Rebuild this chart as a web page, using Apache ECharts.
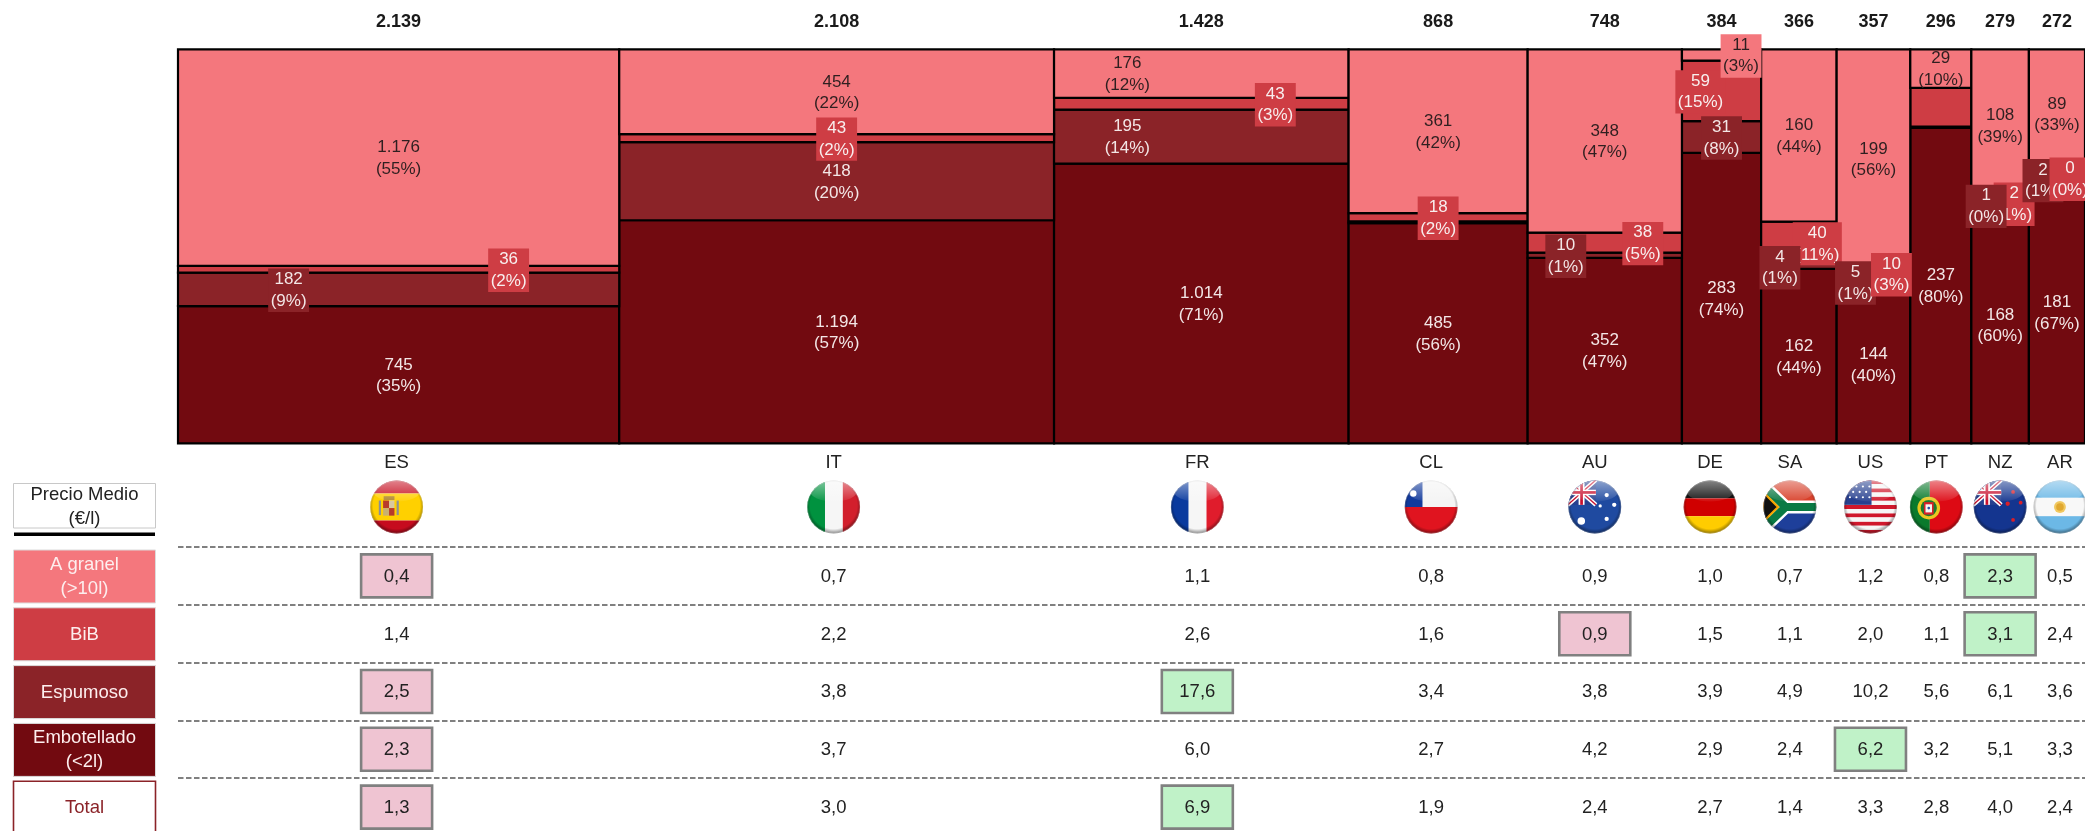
<!DOCTYPE html>
<html>
<head>
<meta charset="utf-8">
<style>html,body{margin:0;padding:0;background:#fff}#c{width:2085px;height:831px}</style>
<script src="https://cdn.jsdelivr.net/npm/echarts@6/dist/echarts.min.js"></script>
</head>
<body>
<div id="c"></div>
<script>
// ---- data ----
const countries   = ['ES','IT','FR','CL','AU','DE','SA','US','PT','NZ','AR'];
const totals      = [2139,2108,1428,868,748,384,366,357,296,279,272];
const embotellado = [745,1194,1014,485,352,283,162,144,237,168,181];
const espumoso    = [182,418,195,4,10,31,4,5,1,1,2];
const bib         = [36,43,43,18,38,59,40,10,29,2,0];
const granel      = [1176,454,176,361,348,11,160,199,29,108,89];

const priceRows   = ['A granel\n(>10l)','BiB','Espumoso','Embotellado\n(<2l)','Total'];
const priceGranel = [0.4,0.7,1.1,0.8,0.9,1.0,0.7,1.2,0.8,2.3,0.5];
const priceBib    = [1.4,2.2,2.6,1.6,0.9,1.5,1.1,2.0,1.1,3.1,2.4];
const priceEsp    = [2.5,3.8,17.6,3.4,3.8,3.9,4.9,10.2,5.6,6.1,3.6];
const priceEmb    = [2.3,3.7,6.0,2.7,4.2,2.9,2.4,6.2,3.2,5.1,3.3];
const priceTotal  = [1.3,3.0,6.9,1.9,2.4,2.7,1.4,3.3,2.8,4.0,2.4];
const lowCells    = ['0-0','2-0','3-0','4-0','1-4'];            // row-column, pink
const highCells   = ['0-9','1-9','2-2','4-2','3-7'];            // row-column, green

// ---- layout / style (not data) ----
const FONT = '"Liberation Sans", Arial, sans-serif';
const colors = {granel:'#F4777D', bib:'#CE3D44', esp:'#8B2328', emb:'#720A10'};
const tableShift = [-2,-3,-4,-7,-10,-11.5,-9,-3,-4.5,0,3];      // table columns sit slightly off the mosaic columns
const granelDx = [0,0,-74,0,0,19.5,0,0,0,0,0];
const bibDx    = [110,0,74,0,38,-21,18.4,18,0,14,13];
const espDx    = [-110,0,-74,0,-39,0,-19,-18,0,-14,-14];
const granelBox = [0,0,0,0,0,1,0,0,0,0,0];
const bibBox    = [1,1,1,1,1,1,1,1,0,1,1];
const espBox    = [1,0,0,0,1,1,1,1,0,1,1];
const bibHidden = [0,0,0,0,0,0,0,0,1,0,0];
const espHidden = [0,0,0,1,0,0,0,0,1,0,0];
const espOnTop  = [0,0,0,0,0,0,1,0,0,1,0];
const TEXT_DROP = 1;

const gloss = '<radialGradient id="s" cx=".5" cy=".47" r=".53"><stop offset=".82" stop-color="#000" stop-opacity="0"/><stop offset="1" stop-color="#000" stop-opacity=".5"/></radialGradient>'
  + '<linearGradient id="h" x1="0" y1="0" x2="0" y2="1"><stop offset="0" stop-color="#fff" stop-opacity=".5"/><stop offset="1" stop-color="#fff" stop-opacity=".05"/></linearGradient>'
  + '<clipPath id="c"><ellipse cx="50" cy="50" rx="49" ry="49"/></clipPath>';
const r = (x,y,w,h,f)=>`<rect x="${x}" y="${y}" width="${w}" height="${h}" fill="${f}"/>`;
const jack = r(0,0,52,46,'#27408f')
  + '<path d="M0 0L52 46M52 0L0 46" stroke="#fff" stroke-width="8"/><path d="M0 0L52 46M52 0L0 46" stroke="#c8102e" stroke-width="2.6"/>'
  + r(20,0,11,46,'#fff')+r(0,18,52,10,'#fff')+r(23,0,5,46,'#c8102e')+r(0,20.5,52,5,'#c8102e');
const dots = (list,f)=>list.map(d=>`<circle cx="${d[0]}" cy="${d[1]}" r="${d[2]}" fill="${f}"/>`).join('');
const flagArt = {
  ES: r(0,0,100,25,'#c60b1e')+r(0,25,100,50,'#ffd000')+r(0,75,100,25,'#c60b1e')
      +r(25,38,11,14,'#b83a2a')+r(36,38,10,14,'#d8c8a0')+r(25,52,11,14,'#c8b070')+r(36,52,10,14,'#b83a2a')
      +r(17,38,4,27,'#8a8f98')+r(50,38,4,27,'#8a8f98')+r(26,30,20,7,'#b0862a'),
  IT: r(0,0,34,100,'#00923f')+r(34,0,33,100,'#f6f6f6')+r(67,0,33,100,'#d21f2c'),
  FR: r(0,0,34,100,'#0a3a9e')+r(34,0,33,100,'#f6f6f6')+r(67,0,33,100,'#e01c2c'),
  CL: r(0,0,100,50,'#f4f4f4')+r(0,50,100,50,'#e0141f')+r(0,0,34,50,'#123a9c')+dots([[17,25,6]],'#fff'),
  AU: r(0,0,100,100,'#1f4aa0')+jack+dots([[25,76,7],[72,28,4],[86,46,4],[72,72,4],[60,48,3]],'#fff'),
  DE: r(0,0,100,34,'#111')+r(0,34,100,33,'#d00000')+r(0,67,100,33,'#ffcc00'),
  SA: r(0,0,100,50,'#d8402a')+r(0,50,100,50,'#1e3f9a')
      +'<path d="M-4 6L42 50L-4 94M42 50H100" fill="none" stroke="#fff" stroke-width="24"/>'
      +'<path d="M-4 6L42 50L-4 94M42 50H100" fill="none" stroke="#0a7a44" stroke-width="15"/>'
      +'<path d="M0 22L28 50L0 78Z" fill="#111" stroke="#f7a600" stroke-width="4"/>',
  US: [0,1,2,3,4,5,6].map(i=>r(0,i*15.4,100,7.7,'#d0182c')).join('')+[0,1,2,3,4,5,6].map(i=>r(0,i*15.4+7.7,100,7.7,'#f6f6f6')).join('')+r(0,0,52,46,'#27408f')+dots([[12,12,2],[24,12,2],[36,12,2],[48,12,2],[18,22,2],[30,22,2],[42,22,2],[12,32,2],[24,32,2],[36,32,2],[48,32,2]],'#fff'),
  PT: r(0,0,38,100,'#0a7a2c')+r(38,0,62,100,'#dd0a14')+dots([[36,52,21]],'#e9c820')+dots([[36,52,15]],'#1a7a30')+r(27,41,18,23,'#d81f2a')+r(30,45,12,15,'#f4f4f4')+dots([[36,52,2.5]],'#2a4fa8'),
  NZ: r(0,0,100,100,'#14358f')+jack+dots([[74,22,3.5],[88,42,3.5],[64,44,4],[74,74,3.5]],'#d81f2a'),
  AR: r(0,0,100,33,'#6cb8e6')+r(0,33,100,34,'#f8f8f8')+r(0,67,100,33,'#6cb8e6')+dots([[50,50,11]],'#f0c860')+dots([[50,50,7]],'#e0a830')
};
function flagUri(code){
  const svg = `<svg xmlns="http://www.w3.org/2000/svg" width="106" height="106" viewBox="0 0 100 100"><defs>${gloss}</defs><g clip-path="url(#c)">${flagArt[code]}`
    + `<rect width="100" height="100" fill="url(#s)"/><ellipse cx="50" cy="20" rx="44" ry="20" fill="url(#h)"/></g><ellipse cx="50" cy="50" rx="48.5" ry="48.5" fill="none" stroke="#fff" stroke-opacity=".35" stroke-width="1.2"/></svg>`;
  return 'data:image/svg+xml;charset=utf-8,' + encodeURIComponent(svg);
}

// ---- scales built from the data ----
const scaleMax = totals.reduce((a,b)=>a+b,0);
const starts = []; totals.reduce((acc,t,i)=>{starts[i]=acc;return acc+t;},0);
const mids = totals.map((t,i)=>starts[i]+t/2);
const seriesDefs = [
  {key:'emb',    vals:embotellado, fill:colors.emb,    dx:null,     box:null,      hidden:null,      ink:'#f3e6e6'},
  {key:'esp',    vals:espumoso,    fill:colors.esp,    dx:espDx,    box:espBox,    hidden:espHidden, ink:'#f3e6e6'},
  {key:'bib',    vals:bib,         fill:colors.bib,    dx:bibDx,    box:bibBox,    hidden:bibHidden, ink:'#f8eeee'},
  {key:'granel', vals:granel,      fill:colors.granel, dx:granelDx, box:granelBox, hidden:null,      ink:'#2f1f20'}
];
const colSum = totals.map((_,i)=>seriesDefs.reduce((s,d)=>s+d.vals[i],0));
const fmt = v => String(v).replace(/\B(?=(\d{3})+$)/g,'.');
const labels = [];
const segmentSeries = seriesDefs.map((d,sIdx)=>{
  const data = d.vals.map((v,i)=>{
    const below = seriesDefs.slice(0,sIdx).reduce((s,o)=>s+o.vals[i],0);
    const y0 = below/colSum[i], y1 = (below+v)/colSum[i];
    if(!(d.hidden && d.hidden[i])){
      labels.push({
        pos:[mids[i],(y0+y1)/2], dx:d.dx?d.dx[i]:0, text:fmt(v)+'\n('+Math.round(v/totals[i]*100)+'%)',
        ink:d.ink, bg:(d.box&&d.box[i])?d.fill:null,
        z: 10*(i+1) + (d.key==='granel'?5:d.key==='esp'?(espOnTop[i]?3:1):d.key==='bib'?2:0)
      });
    }
    return [starts[i],starts[i]+totals[i],y0,y1];
  });
  return {
    type:'custom', xAxisIndex:0, yAxisIndex:0, z:2, clip:false, silent:true, data,
    renderItem:(p,api)=>{
      const a=api.coord([api.value(0),api.value(2)]), b=api.coord([api.value(1),api.value(3)]);
      return {type:'rect',shape:{x:a[0],y:b[1],width:b[0]-a[0],height:a[1]-b[1]},
        style:{fill:d.fill,stroke:'#000',lineWidth:2.2}};
    }
  };
});
const labelSeries = {
  type:'custom', xAxisIndex:0, yAxisIndex:0, z:5, clip:false, silent:true,
  data:labels.map(l=>l.pos),
  renderItem:(p,api)=>{
    const l=labels[p.dataIndex], c=api.coord([api.value(0),api.value(1)]);
    return {type:'text',z2:l.z,x:c[0]+l.dx,y:c[1]+TEXT_DROP,style:{text:l.text,align:'center',verticalAlign:'middle',
      fontSize:17,fontFamily:FONT,lineHeight:21.7,fill:l.ink,backgroundColor:l.bg||'transparent',padding:[0,2.5]}};
  }
};
const headerSeries = {
  type:'custom', xAxisIndex:0, yAxisIndex:0, z:6, clip:false, silent:true,
  data:mids.map((m,i)=>[m,1]),
  renderItem:(p,api)=>{
    const c=api.coord([api.value(0),api.value(1)]);
    return {type:'text',x:c[0],y:c[1]-27,style:{text:fmt(totals[p.dataIndex]),align:'center',verticalAlign:'middle',
      fontSize:18,fontWeight:'bold',fontFamily:FONT,fill:'#1a1a1a'}};
  }
};
const codeSeries = {
  type:'custom', xAxisIndex:2, yAxisIndex:2, z:6, clip:false, silent:true,
  data:mids.map(m=>[m,0]),
  renderItem:(p,api)=>{
    const i=p.dataIndex, c=api.coord([api.value(0),0]), f=api.coord([api.value(0),1]);
    const x=c[0]+tableShift[i];
    return {type:'group',children:[
      {type:'text',x,y:c[1],style:{text:countries[i],align:'center',verticalAlign:'middle',fontSize:18.5,fontFamily:FONT,fill:'#222'}},
      {type:'image',style:{image:flagUri(countries[i]),x:x-27,y:f[1]-27,width:54,height:54}}
    ]};
  }
};
const priceTable = [priceGranel,priceBib,priceEsp,priceEmb,priceTotal];
const cellData = [];
priceTable.forEach((row,ri)=>row.forEach((v,ci)=>cellData.push([mids[ci],ri+0.5,v,ci,ri])));
const cellSeries = {
  type:'custom', xAxisIndex:1, yAxisIndex:1, z:6, clip:false, silent:true,
  data:cellData,
  renderItem:(p,api)=>{
    const ci=api.value(3), ri=api.value(4), v=api.value(2);
    const c=api.coord([api.value(0),api.value(1)]), x=c[0]+tableShift[ci], y=c[1];
    const id=ri+'-'+ci, kids=[];
    const tint=lowCells.includes(id)?'#EFC4D2':highCells.includes(id)?'#C0F2C8':null;
    if(tint) kids.push({type:'rect',shape:{x:x-35.5,y:y-21.5,width:71,height:43},style:{fill:tint,stroke:'#808080',lineWidth:2.6}});
    kids.push({type:'text',z2:5,x,y:y+0.8,style:{text:v.toFixed(1).replace('.',','),align:'center',verticalAlign:'middle',fontSize:18.5,fontFamily:FONT,fill:'#222'}});
    return {type:'group',children:kids};
  }
};
const rowStyles = [
  {fill:colors.granel,ink:'#fdeeee',stroke:'#dcdcdc'},{fill:colors.bib,ink:'#fdeeee',stroke:'#dcdcdc'},
  {fill:colors.esp,ink:'#fdeeee',stroke:'#dcdcdc'},{fill:colors.emb,ink:'#fdeeee',stroke:'#dcdcdc'},
  {fill:'#fff',ink:colors.esp,stroke:colors.esp}
];
const rowSeries = {
  type:'custom', xAxisIndex:1, yAxisIndex:1, z:6, clip:false, silent:true,
  data:priceRows.map((_,i)=>[0,i+0.5]),
  renderItem:(p,api)=>{
    const i=p.dataIndex, y=api.coord([0,api.value(1)])[1]+0.6, s=rowStyles[i];
    return {type:'group',children:[
      {type:'rect',shape:{x:13.5,y:y-26.5,width:142,height:53},style:{fill:s.fill,stroke:s.stroke,lineWidth:i===4?1.6:1}},
      {type:'text',z2:3,x:84.5,y:y+0.5,style:{text:priceRows[i],align:'center',verticalAlign:'middle',fontSize:18.5,lineHeight:24,fontFamily:FONT,fill:s.ink}}
    ]};
  }
};

const hiddenX = {type:'value',min:0,max:scaleMax,show:false,splitLine:{show:false}};
const chart = echarts.init(document.getElementById('c'),null,{renderer:'canvas'});
chart.setOption({
  animation:false,
  backgroundColor:'#fff',
  grid:[
    {left:178,top:49.3,width:1907,height:394},
    {left:178,top:547,width:1907,height:284},
    {left:178,top:441,width:1907,height:88}
  ],
  xAxis:[{...hiddenX,gridIndex:0},{...hiddenX,gridIndex:1},{...hiddenX,gridIndex:2}],
  yAxis:[
    {type:'value',gridIndex:0,min:0,max:1,show:false,splitLine:{show:false}},
    {type:'value',gridIndex:1,min:0,max:4.9135,interval:1,inverse:true,
      axisLine:{show:false},axisTick:{show:false},axisLabel:{show:false},
      splitLine:{show:true,showMaxLine:false,lineStyle:{color:'#808080',width:2,type:[5.5,2.5]}}},
    {type:'category',gridIndex:2,data:['code','flag'],inverse:true,show:false}
  ],
  graphic:[
    {type:'rect',shape:{x:13.5,y:483.5,width:142,height:44.5},style:{fill:'#fff',stroke:'#c8c8c8',lineWidth:1}},
    {type:'text',x:84.5,y:507,style:{text:'Precio Medio\n(€/l)',align:'center',verticalAlign:'middle',fontSize:18.5,lineHeight:24.5,fontFamily:FONT,fill:'#222'}},
    {type:'rect',shape:{x:14,y:532.5,width:141,height:3.4},style:{fill:'#000'}}
  ],
  series:[...segmentSeries,labelSeries,headerSeries,codeSeries,cellSeries,rowSeries]
});
</script>
</body>
</html>
